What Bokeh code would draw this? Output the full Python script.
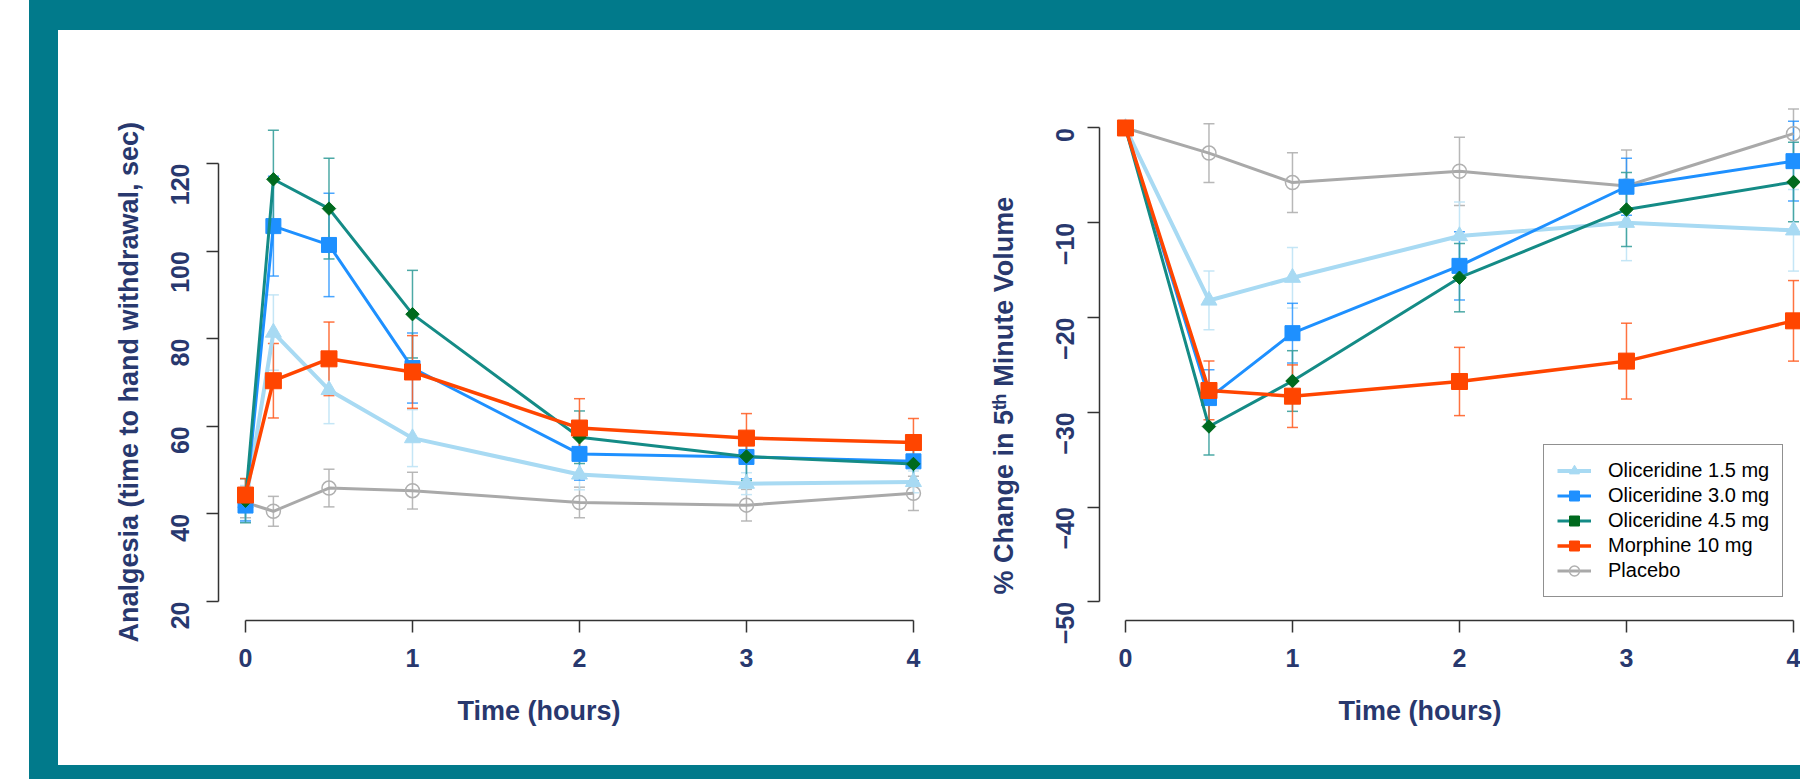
import numpy as np
from bokeh.plotting import figure
from bokeh.models import (Range1d, FixedTicker, Whisker, ColumnDataSource, Legend,
                          LegendItem, Title, TeeHead, Spacer)
from bokeh.layouts import row, column
from bokeh.embed import file_html
from bokeh.resources import INLINE

# ---------------- data: analgesia (left panel) ----------------
t_an = [0, 0.167, 0.5, 1, 2, 3, 4]
an_ol15 = [42.5, 81.4, 68.3, 57.3, 49.0, 46.9, 47.3]
an_ol15_err = [4.0, 8.6, 7.7, 6.5, 3.5, 2.5, 2.5]
an_ol30 = [41.9, 105.7, 101.4, 73.3, 53.7, 53.0, 52.0]
an_ol30_err = [3.5, 11.4, 11.8, 8.0, 6.0, 5.0, 4.5]
an_ol45 = [43.0, 116.4, 109.7, 85.6, 57.5, 53.1, 51.4]
an_ol45_err = [5.0, 11.2, 11.5, 10.0, 6.0, 5.5, 4.0]
an_mor = [44.3, 70.4, 75.4, 72.4, 59.6, 57.3, 56.3]
an_mor_err = [3.8, 8.5, 8.4, 8.3, 6.7, 5.6, 5.5]
an_pla = [42.6, 40.6, 45.9, 45.3, 42.6, 42.0, 44.7]
an_pla_err = [3.5, 3.4, 4.3, 4.2, 3.5, 3.6, 3.9]

# ---------------- data: % change in minute volume (right panel) ----------------
t_mv = [0, 0.5, 1, 2, 3, 4]
mv_ol15 = [0, -18.2, -15.8, -11.4, -10.0, -10.8]
mv_ol15_err = [0, 3.1, 3.2, 3.6, 4.0, 4.3]
mv_ol30 = [0, -28.5, -21.65, -14.55, -6.2, -3.5]
mv_ol30_err = [0, 3.0, 3.15, 3.6, 3.0, 4.2]
mv_ol45 = [0, -31.5, -26.7, -15.8, -8.6, -5.7]
mv_ol45_err = [0, 3.0, 3.2, 3.6, 3.9, 4.2]
mv_mor = [0, -27.7, -28.3, -26.75, -24.6, -20.35]
mv_mor_err = [0, 3.1, 3.3, 3.6, 4.0, 4.25]
mv_pla = [0, -2.65, -5.76, -4.57, -6.12, -0.6]
mv_pla_err = [0, 3.1, 3.15, 3.6, 3.8, 2.6]

labels = ["Oliceridine 1.5 mg", "Oliceridine 3.0 mg", "Oliceridine 4.5 mg",
          "Morphine 10 mg", "Placebo"]
x_ticks = [0, 1, 2, 3, 4]
an_ticks = [20, 40, 60, 80, 100, 120]
mv_ticks = [0, -10, -20, -30, -40, -50]

NAVY = "#28386E"
TEAL_BG = "#017A8B"
FONT = "Arial"

# style per series (legend order)
styles = [
    dict(line="#A8DAF3", marker="triangle", size=16, fill="#A8DAF3", mline="#A8DAF3",
         lw=4, angle=0.0, err="#BFE3F5", ealpha=0.9),
    dict(line="#1E90FF", marker="square", size=15, fill="#1E90FF", mline="#1E90FF",
         lw=3, angle=0.0, err="#1E90FF", ealpha=0.8),
    dict(line="#148B86", marker="square", size=9.5, fill="#006A1E", mline="#006A1E",
         lw=3, angle=np.pi / 4, err="#3AA09C", ealpha=0.9),
    dict(line="#FF4500", marker="square", size=16, fill="#FF4500", mline="#FF4500",
         lw=3.5, angle=0.0, err="#FF5A1F", ealpha=0.85),
    dict(line="#A9A9A9", marker="circle", size=14, fill=None, mline="#B0B0B0",
         lw=3, angle=0.0, err="#B0B0B0", ealpha=0.9),
]


def make_fig(width, mb_left, mb_right, mb_top, mb_bottom, xr, yr, yticks, ybounds):
    p = figure(width=width, height=735, x_range=Range1d(*xr), y_range=Range1d(*yr),
               output_backend="svg", toolbar_location=None,
               min_border_left=mb_left, min_border_right=mb_right,
               min_border_top=mb_top, min_border_bottom=mb_bottom)
    p.outline_line_color = None
    p.grid.visible = False
    p.background_fill_color = "white"
    p.border_fill_color = "white"
    p.xaxis.ticker = FixedTicker(ticks=x_ticks)
    p.yaxis.ticker = FixedTicker(ticks=yticks)
    p.xaxis.bounds = (0, 4)
    p.yaxis.bounds = ybounds
    for ax in (p.xaxis[0], p.yaxis[0]):
        ax.axis_line_color = "#333333"
        ax.axis_line_width = 1.5
        ax.major_tick_line_color = "#333333"
        ax.major_tick_line_width = 1.5
        ax.major_tick_in = 0
        ax.major_tick_out = 12
        ax.minor_tick_line_color = None
        ax.major_label_text_font = FONT
        ax.major_label_text_font_style = "bold"
        ax.major_label_text_font_size = "25px"
        ax.major_label_text_color = NAVY
    p.xaxis.major_label_standoff = 16
    p.yaxis.major_label_orientation = np.pi / 2
    return p


def add_series(p, t, ys, errs):
    order = [4, 0, 1, 2, 3]
    rend = {}
    for i in order:
        st = styles[i]
        y = ys[i]
        e = errs[i]
        src = ColumnDataSource(dict(t=t, y=y,
                                    up=[a + b for a, b in zip(y, e)],
                                    lo=[a - b for a, b in zip(y, e)]))
        w = Whisker(source=src, base="t", upper="up", lower="lo", dimension="height",
                    line_color=st["err"], line_alpha=st["ealpha"], line_width=1.5,
                    upper_head=TeeHead(size=11, line_color=st["err"],
                                       line_alpha=st["ealpha"], line_width=1.5),
                    lower_head=TeeHead(size=11, line_color=st["err"],
                                       line_alpha=st["ealpha"], line_width=1.5))
        p.add_layout(w)
        lr = p.line("t", "y", source=src, line_color=st["line"], line_width=st["lw"])
        sr = p.scatter("t", "y", source=src, marker=st["marker"], size=st["size"],
                       angle=st["angle"], fill_color=st["fill"], line_color=st["mline"],
                       line_width=1.5 if st["fill"] is None else 1)
        rend[i] = (lr, sr)
    return rend


def axis_titles(p, xlab, ylab, x_offset, x_standoff, y_offset, y_standoff):
    p.add_layout(Title(text=xlab, align="left", offset=x_offset, standoff=x_standoff,
                       vertical_align="top", text_font=FONT, text_font_style="bold",
                       text_font_size="27px", text_color=NAVY), "below")
    p.add_layout(Title(text=ylab, align="left", offset=y_offset, standoff=y_standoff,
                       vertical_align="bottom", text_font=FONT, text_font_style="bold",
                       text_font_size="27px", text_color=NAVY), "left")


# ---------------- left panel ----------------
p1 = make_fig(902, 160, 20, 70, 145, (-0.1617, 4.162), (15.66, 134.38), an_ticks, (20, 120))
p1.yaxis.major_label_standoff = 26
add_series(p1, t_an, [an_ol15, an_ol30, an_ol45, an_mor, an_pla],
           [an_ol15_err, an_ol30_err, an_ol45_err, an_mor_err, an_pla_err])
axis_titles(p1, "Time (hours)", "Analgesia (time to hand withdrawal, sec)",
            239, 52, -22, 32)

# ---------------- right panel ----------------
p2 = make_fig(840, 138, 0, 60, 145, (-0.1555, 4.042), (-51.97, 2.90), mv_ticks, (-50, 0))
p2.yaxis.major_label_standoff = 22
rend = add_series(p2, t_mv, [mv_ol15, mv_ol30, mv_ol45, mv_mor, mv_pla],
                  [mv_ol15_err, mv_ol30_err, mv_ol45_err, mv_mor_err, mv_pla_err])
axis_titles(p2, "Time (hours)", "% Change in 5\u1d57\u02b0 Minute Volume",
            239, 52, 26, 52)

legend = Legend(items=[LegendItem(label=labels[i], renderers=list(rend[i])) for i in range(5)],
                location=(444, 23))
legend.border_line_color = "#222222"
legend.border_line_width = 1.5
legend.background_fill_color = "white"
legend.background_fill_alpha = 1.0
legend.label_text_font = FONT
legend.label_text_font_size = "20px"
legend.label_text_color = "black"
legend.glyph_width = 34
legend.glyph_height = 25
legend.label_height = 25
legend.spacing = 0
legend.padding = 13
legend.label_standoff = 17
legend.margin = 0
p2.add_layout(legend)

# ---------------- frame / page layout ----------------
teal = {"background-color": TEAL_BG}
top = row(Spacer(width=29, height=30), Spacer(width=1771, height=30, styles=teal))
mid = row(Spacer(width=29, height=735), Spacer(width=29, height=735, styles=teal), p1, p2)
bot = row(Spacer(width=29, height=14), Spacer(width=1771, height=14, styles=teal))
layout = column(top, mid, bot)

open("out.html", "w").write(file_html(layout, INLINE))
